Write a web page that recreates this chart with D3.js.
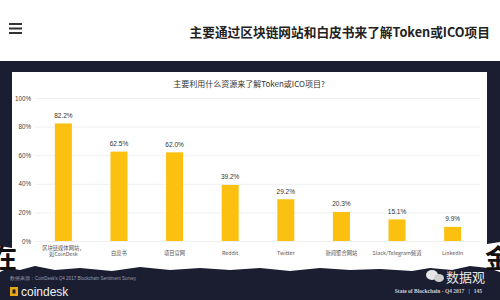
<!DOCTYPE html>
<html>
<head>
<meta charset="utf-8">
<script src="https://cdn.jsdelivr.net/npm/d3@7"></script>
<style>
  body { margin: 0; background: #fff; }
  svg { display: block; font-family: "Noto Sans CJK SC", "Noto Sans", sans-serif; }
</style>
</head>
<body>
<svg id="chart" width="500" height="300"></svg>
<script>
// values
const categories = [
  ["区块链媒体网站，", "如CoinDesk"],
  ["白皮书"],
  ["项目官网"],
  ["Reddit"],
  ["Twitter"],
  ["新闻聚合网站"],
  ["Slack/Telegram频道"],
  ["LinkedIn"],
];
const shares = [82.2, 62.5, 62.0, 39.2, 29.2, 20.3, 15.1, 9.9];
const yTicks = [0, 20, 40, 60, 80, 100];

const pageTitle = "主要通过区块链网站和白皮书来了解Token或ICO项目";
const chartTitle = "主要利用什么资源来了解Token或ICO项目?";
const sourceText = "数据来源：CoinDesk's Q4 2017 Blockchain Sentiment Survey";
const footerText = "State of Blockchain - Q4 2017   |   145";

const svg = d3.select("#chart");
const W = 500, H = 300;

// page header
svg.append("rect").attr("width", W).attr("height", 61).attr("fill", "#ffffff");
[24, 28.5, 33].forEach(function (y) {
  svg.append("rect").attr("x", 9).attr("y", y - 1).attr("width", 13).attr("height", 2)
    .attr("fill", "#333");
});
svg.append("text")
  .attr("x", 490).attr("y", 36.5)
  .attr("text-anchor", "end")
  .attr("font-size", 12.7).attr("font-weight", "bold").attr("fill", "#222")
  .text(pageTitle);

// dark slide background
svg.append("rect").attr("y", 61).attr("width", W).attr("height", H - 61).attr("fill", "#1b1d30");

// white panel with torn bottom edge
const tornEdge = [
  [12, 72], [487, 72], [487, 244], [500, 242], [500, 272], [488, 268], [470, 266], [452, 270],
  [430, 268], [412, 271], [380, 269], [350, 270], [320, 268], [290, 271], [260, 268],
  [230, 270], [200, 268], [170, 270], [140, 267], [112, 271], [80, 268], [55, 270],
  [35, 266], [20, 270], [8, 268], [0, 272], [0, 246], [12, 248]
];
svg.append("path")
  .attr("d", d3.line()(tornEdge) + "Z")
  .attr("fill", "#ffffff");

// big overlaid characters at the edges
svg.append("text").attr("x", -9).attr("y", 268)
  .attr("font-size", 26).attr("font-weight", "bold").attr("fill", "#111").text("在");
svg.append("text").attr("x", 485).attr("y", 268)
  .attr("font-size", 26).attr("font-weight", "bold").attr("fill", "#111").text("金");

// chart
const margin = { left: 35, right: 19, top: 98, bottom: 59 };
const x = d3.scaleBand()
  .domain(d3.range(categories.length))
  .range([margin.left, W - margin.right])
  .paddingInner(0.694).paddingOuter(0.357);
const y = d3.scaleLinear().domain([0, 100]).range([H - margin.bottom, margin.top]);

svg.append("text")
  .attr("x", 249).attr("y", 87)
  .attr("text-anchor", "middle")
  .attr("font-size", 8).attr("fill", "#333")
  .text(chartTitle);

const yAxis = svg.append("g")
  .attr("transform", "translate(" + margin.left + ",0)")
  .call(d3.axisLeft(y).tickValues(yTicks).tickFormat(d => d + "%")
    .tickSize(-(W - margin.left - 20)).tickPadding(4));
yAxis.select(".domain").remove();
yAxis.selectAll(".tick line").attr("stroke", "#ececec").attr("stroke-width", 0.8);
yAxis.selectAll(".tick text")
  .attr("font-size", 6.3).attr("fill", "#444")
  .attr("font-family", "Liberation Sans, Arial, sans-serif");

svg.append("g")
  .selectAll("rect")
  .data(shares)
  .join("rect")
  .attr("x", (d, i) => x(i))
  .attr("y", d => y(d))
  .attr("width", x.bandwidth())
  .attr("height", d => y(0) - y(d))
  .attr("fill", "#fcc010");

svg.append("g")
  .selectAll("text")
  .data(shares)
  .join("text")
  .attr("x", (d, i) => x(i) + x.bandwidth() / 2)
  .attr("y", d => y(d) - 5.5)
  .attr("text-anchor", "middle")
  .attr("font-size", 6.5).attr("fill", "#333")
  .attr("font-family", "Liberation Sans, Arial, sans-serif")
  .text(d => d.toFixed(1) + "%");

// one <text> per line so wrapped labels don't overlap
const catLines = [];
categories.forEach(function (lines, i) {
  lines.forEach(function (t, j) {
    catLines.push({ i: i, t: t, y: lines.length > 1 ? 249.5 + j * 6.8 : 255 });
  });
});
svg.append("g")
  .selectAll("text")
  .data(catLines)
  .join("text")
  .attr("x", d => x(d.i) + x.bandwidth() / 2)
  .attr("y", d => d.y)
  .attr("text-anchor", "middle")
  .attr("font-size", 5.3).attr("fill", "#555")
  .text(d => d.t);

// footer
svg.append("text").attr("x", 10).attr("y", 280)
  .attr("font-size", 4.5).attr("fill", "#9a9db0")
  .attr("font-family", "Liberation Sans, Arial, sans-serif")
  .text(sourceText);
svg.append("rect").attr("x", 10).attr("y", 287).attr("width", 8).attr("height", 9).attr("fill", "#e9a813");
svg.append("rect").attr("x", 12.5).attr("y", 289.5).attr("width", 3).attr("height", 4).attr("fill", "#1b1d30");
svg.append("text").attr("x", 21).attr("y", 296)
  .attr("font-size", 12).attr("fill", "#f2f2f2")
  .attr("font-family", "Liberation Sans, Arial, sans-serif")
  .text("coindesk");

// wechat-ish badge
svg.append("ellipse").attr("cx", 432).attr("cy", 275).attr("rx", 6).attr("ry", 5).attr("fill", "#e6e6e6");
svg.append("ellipse").attr("cx", 439).attr("cy", 278).attr("rx", 5).attr("ry", 4).attr("fill", "#cfcfcf");
svg.append("text").attr("x", 446).attr("y", 282)
  .attr("font-size", 13).attr("fill", "#e8e8e8")
  .text("数据观");
svg.append("text").attr("x", 482).attr("y", 293)
  .attr("text-anchor", "end")
  .attr("font-size", 5.5).attr("font-weight", "bold").attr("fill", "#cfcfd6")
  .attr("font-family", "Liberation Serif, serif")
  .attr("xml:space", "preserve")
  .text(footerText);
</script>
</body>
</html>
